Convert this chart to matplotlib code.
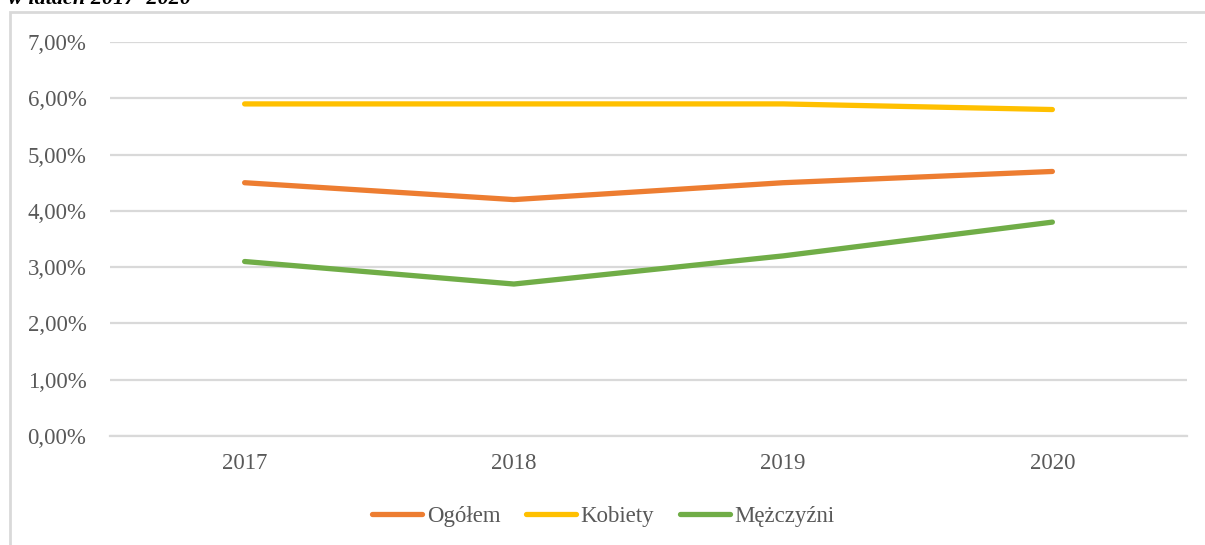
"""Udział w latach 2017-2020: Ogółem / Kobiety / Mężczyźni."""
import matplotlib.pyplot as plt
from matplotlib.patches import Rectangle
from matplotlib.ticker import FuncFormatter

years = ["2017", "2018", "2019", "2020"]
ogolem = [4.5, 4.2, 4.5, 4.7]
kobiety = [5.9, 5.9, 5.9, 5.8]
mezczyzni = [3.1, 2.7, 3.2, 3.8]
series = [("Ogółem", ogolem, "#ED7D31"),
          ("Kobiety", kobiety, "#FFC000"),
          ("Mężczyźni", mezczyzni, "#70AD47")]

plt.rcParams["font.family"] = ["Liberation Serif", "DejaVu Serif"]

fig = plt.figure(figsize=(12.05, 5.45), dpi=100)
ax = fig.add_axes([110 / 1205, 109 / 545, 1077 / 1205, 394 / 545])

x = range(len(years))
for name, values, color in series:
    ax.plot(x, values, color=color, lw=3.8, solid_capstyle="round", label=name)

ax.set_xlim(-0.5, len(years) - 0.5)
ax.set_ylim(0, 7)
ax.set_yticks(range(0, 8))
ax.yaxis.set_major_formatter(FuncFormatter(lambda v, _: f"{v:.2f}%".replace(".", ",")))
ax.set_xticks(list(x))
ax.set_xticklabels(years)
ax.grid(axis="y", color="#D9D9D9", lw=1.6)
ax.set_axisbelow(True)
for side in ("top", "right", "left"):
    ax.spines[side].set_visible(False)
ax.spines["bottom"].set_color("#D9D9D9")
ax.spines["bottom"].set_linewidth(1.6)
ax.tick_params(length=0, labelsize=16.5, colors="#595959", pad=12)
ax.tick_params(axis="y", pad=17)

leg = ax.legend(loc="center", bbox_to_anchor=(0.458, -0.205), ncol=3, frameon=False,
                fontsize=16.5, handlelength=2.2, handletextpad=0.2, columnspacing=1.1)
for t in leg.get_texts():
    t.set_color("#595959")

# chart frame and the caption cut off at the top
fig.patches.append(Rectangle((10 / 1205, -0.1), 1.2, 1.1 - 12 / 545, transform=fig.transFigure,
                             fill=False, ec="#D9D9D9", lw=2))
fig.text(8 / 1205, 1 - 4 / 545, "w latach 2017–2020", fontsize=16, fontweight="bold",
         fontstyle="italic", va="baseline", ha="left", color="black")

fig.savefig("out.png", dpi=100)
